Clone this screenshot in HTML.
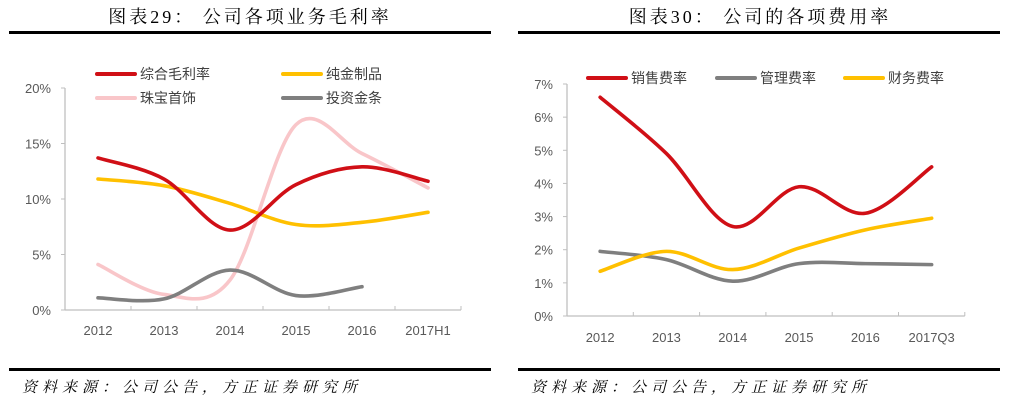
<!DOCTYPE html>
<html><head><meta charset="utf-8">
<style>
body{margin:0;background:#fff;width:1016px;height:405px;overflow:hidden;font-family:"Liberation Sans","Noto Sans CJK SC",sans-serif}
svg{position:absolute;left:0;top:0}
.t{font-family:"Liberation Serif","Noto Serif CJK SC",serif;font-size:18px;font-weight:normal;fill:#000;letter-spacing:3px}
.src{font-family:"Liberation Serif","Noto Serif CJK SC",serif;font-size:15px;font-style:italic;fill:#000;letter-spacing:5px}
.tk{font-size:13px;fill:#595959}
.lg{font-size:14px;fill:#404040}
</style></head><body>
<svg id="s" width="1016" height="405">
<text class="t" x="250" y="23" text-anchor="middle">图表29：  公司各项业务毛利率</text>
<text class="t" x="760" y="23" text-anchor="middle">图表30：  公司的各项费用率</text>
<rect x="9" y="31" width="482" height="3" fill="#000"/>
<rect x="518" y="31" width="482" height="3" fill="#000"/>
<rect x="9" y="368" width="482" height="3" fill="#000"/>
<rect x="518" y="368" width="482" height="3" fill="#000"/>
<text class="src" x="22" y="392">资料来源：公司公告，方正证券研究所</text>
<text class="src" x="531" y="392">资料来源：公司公告，方正证券研究所</text>
<g id="L"></g><g id="R"></g>
</svg>
<script>
const catsL=["2012","2013","2014","2015","2016","2017H1"];
const yTicksL=["0%","5%","10%","15%","20%"];
const zongheL=[13.7,11.8,7.2,11.3,12.9,11.6];
const chunjinL=[11.8,11.2,9.6,7.7,7.9,8.8];
const zhubaoL=[4.1,1.4,2.7,16.7,14.1,11.0];
const jintiaoL=[1.1,1.0,3.6,1.3,2.1];
const catsR=["2012","2013","2014","2015","2016","2017Q3"];
const yTicksR=["0%","1%","2%","3%","4%","5%","6%","7%"];
const xiaoshouR=[6.6,4.9,2.7,3.9,3.1,4.5];
const guanliR=[1.95,1.7,1.05,1.58,1.58,1.55];
const caiwuR=[1.35,1.95,1.4,2.05,2.6,2.95];
const NS="http://www.w3.org/2000/svg";
function mk(p,tag,a){const e=document.createElementNS(NS,tag);for(const k in a)e.setAttribute(k,a[k]);p.appendChild(e);return e;}
function smooth(pts){let d="M"+pts[0][0]+","+pts[0][1];for(let i=0;i<pts.length-1;i++){const p0=pts[i-1]||pts[i],p1=pts[i],p2=pts[i+1],p3=pts[i+2]||p2;
const c1=[p1[0]+(p2[0]-p0[0])/6,p1[1]+(p2[1]-p0[1])/6],c2=[p2[0]-(p3[0]-p1[0])/6,p2[1]-(p3[1]-p1[1])/6];
d+=" C"+c1+" "+c2+" "+p2;}return d;}
function chart(g,o){
 const x=i=>o.x0+o.bw*(i+0.5), y=v=>o.y0-(v/o.max)*(o.y0-o.y1);
 let a=mk(g,"line",{x1:o.x0,y1:o.y0,x2:o.x0,y2:o.y1,stroke:"#bfbfbf","stroke-width":1.3});
 
 a=mk(g,"line",{x1:o.x0,y1:o.y0,x2:o.x0+o.bw*o.cats.length,y2:o.y0,stroke:"#bfbfbf","stroke-width":1.3});
 
 o.ticks.forEach((t,i)=>{const v=i*o.step;
  const l=mk(g,"line",{x1:o.x0-4,x2:o.x0,y1:y(v),y2:y(v),stroke:"#bfbfbf"});
  
  const tx=mk(g,"text",{x:o.x0-14,y:y(v)+5,"text-anchor":"end",class:"tk"});tx.textContent=t;
  });
 for(let i=0;i<=o.cats.length;i++){const l=mk(g,"line",{x1:o.x0+o.bw*i,x2:o.x0+o.bw*i,y1:o.y0,y2:o.y0-4,stroke:"#bfbfbf"});
  }
 o.cats.forEach((c,i)=>{const tx=mk(g,"text",{x:x(i),y:o.y0+o.xl,"text-anchor":"middle",class:"tk"});tx.textContent=c;
  });
 o.series.forEach(s=>{const p=mk(g,"path",{d:smooth(s.v.map((v,i)=>[x(i),y(v)])),fill:"none",stroke:s.c,"stroke-width":3.6,"stroke-linecap":"round"});
  
  const ll=mk(g,"line",{x1:s.lx,x2:s.lx+38,y1:s.ly,y2:s.ly,stroke:s.c,"stroke-width":4,"stroke-linecap":"round"});
  
  const lt=mk(g,"text",{x:s.lx+43,y:s.ly+5,class:"lg"});lt.textContent=s.t;
  });
}
chart(document.getElementById("L"),{x0:65,bw:66,y0:310,y1:88,max:20,step:5,cats:catsL,ticks:yTicksL,xl:25,series:[
 {v:zhubaoL,c:"#f9c6c9",n:"line-zhubao",t:"珠宝首饰",lx:97,ly:98},
 {v:chunjinL,c:"#ffc000",n:"line-chunjin",t:"纯金制品",lx:283,ly:74},
 {v:zongheL,c:"#d00f16",n:"line-zonghe",t:"综合毛利率",lx:97,ly:74},
 {v:jintiaoL,c:"#7f7f7f",n:"line-jintiao",t:"投资金条",lx:283,ly:98}]});
chart(document.getElementById("R"),{x0:567,bw:66.3,y0:316,y1:84,max:7,step:1,cats:catsR,ticks:yTicksR,xl:26,series:[
 {v:guanliR,c:"#7f7f7f",n:"line-guanli",t:"管理费率",lx:717,ly:78},
 {v:caiwuR,c:"#ffc000",n:"line-caiwu",t:"财务费率",lx:845,ly:78},
 {v:xiaoshouR,c:"#d00f16",n:"line-xiaoshou",t:"销售费率",lx:588,ly:78}]});
</script>
</body></html>
